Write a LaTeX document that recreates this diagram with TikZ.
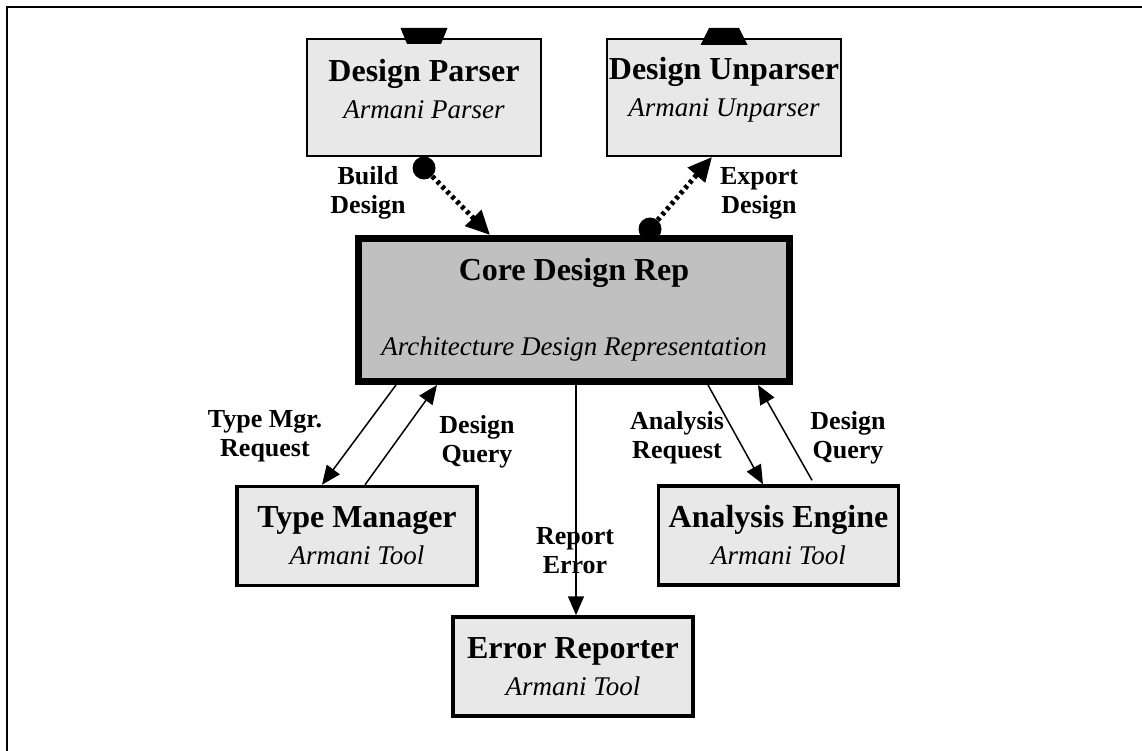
\documentclass[tikz,border=0pt]{standalone}
\usepackage{fontspec}
\setmainfont{Liberation Serif}
\usetikzlibrary{arrows.meta}
\definecolor{partgray}{RGB}{232,232,232}
\definecolor{coregray}{RGB}{192,192,192}
\newcommand{\boxname}[1]{{\fontsize{32}{37}\selectfont\bfseries #1}}
\newcommand{\boxrole}[1]{{\itshape #1}}

\begin{document}
\begin{tikzpicture}[x=1pt, y=-1pt,
  part/.style={draw, fill=partgray, line width=2pt, inner sep=0pt, minimum width=234pt, minimum height=117pt},
  tool/.style={draw, fill=partgray, line width=3.5pt, inner sep=0pt, minimum width=240pt, minimum height=99pt, align=center, font=\fontsize{27}{37}\selectfont},
  rep/.style={draw, fill=coregray, line width=7pt, inner sep=0pt, minimum width=431pt, minimum height=143pt, align=center, font=\fontsize{27}{37}\selectfont},
  txt/.style={align=center, font=\fontsize{27}{37}\selectfont},
  lbl/.style={align=center, font=\fontsize{26}{29}\selectfont\bfseries},
  call/.style={line width=1.5pt, -{Triangle[length=19pt,width=16pt]}},
  conn/.style={line width=5pt, dash pattern=on 3.5pt off 3.5pt, -{Triangle[length=24pt,width=22pt]}},
  dot/.style={circle, fill, inner sep=0pt, minimum size=23pt},
]
\useasboundingbox (0,0) rectangle (1142,751);
\draw[line width=2pt] (6.5,751) |- (1142,7.5);

\node[part] (dp) at (424,97.5) {};
\node[txt] (dpt) at (424,89) {\boxname{Design Parser}\\\boxrole{Armani Parser}};
\node[part] (du) at (724,97.5) {};
\node[txt] (dut) at (724,89.5) {\boxname{Design Unparser}\\\boxrole{Armani Unparser}};

\fill ([xshift=-23.5,yshift=10]dp.north) -- ([xshift=23.5,yshift=10]dp.north) -- ([xshift=17,yshift=-6]dp.north) -- ([xshift=-17,yshift=-6]dp.north) -- cycle;
\fill ([xshift=-15,yshift=10]du.north) -- ([xshift=15,yshift=10]du.north) -- ([xshift=23.5,yshift=-7]du.north) -- ([xshift=-23.5,yshift=-7]du.north) -- cycle;

\node[rep] (core) at (574,310) {\boxname{Core Design Rep}\\[38pt]\boxrole{Architecture Design Representation}};

\node[tool] (tm) at (357,536) {\boxname{Type Manager}\\\boxrole{Armani Tool}};
\node[tool] (er) at (573,666.5) {\boxname{Error Reporter}\\\boxrole{Armani Tool}};
\node[tool] (ae) at (778.5,535.5) {\boxname{Analysis Engine}\\\boxrole{Armani Tool}};

\node[dot] (bd) at ([yshift=-11]dp.south) {};
\node[dot] (ed) at ([xshift=76,yshift=6]core.north) {};
\draw[conn] (bd) -- ([xshift=-84]core.north);
\draw[conn] (ed) -- ([xshift=-12]du.south);

\draw[call] ([xshift=-178]core.south) -- ([xshift=-35]tm.north);
\draw[call] ([xshift=8]tm.north) -- ([xshift=-137]core.south);
\draw[call] ([xshift=2]core.south) -- ([xshift=2]core.south |- er.north);
\draw[call] ([xshift=134]core.south) -- ([xshift=-15.5]ae.north);
\draw[call] ([xshift=33.5,yshift=4]ae.north) -- ([xshift=184]core.south);

\node[lbl] (bdl) at (368,193) {Build\\Design};
\node[lbl] (edl) at (759,193) {Export\\Design};
\node[lbl] (tml) at (265,436) {Type Mgr.\\Request};
\node[lbl] (dql) at (477,442) {Design\\Query};
\node[lbl] (arl) at (677,438) {Analysis\\Request};
\node[lbl] (dqr) at (848,438) {Design\\Query};
\node[lbl] (rel) at (575,551) {Report\\Error};
\end{tikzpicture}
\end{document}
